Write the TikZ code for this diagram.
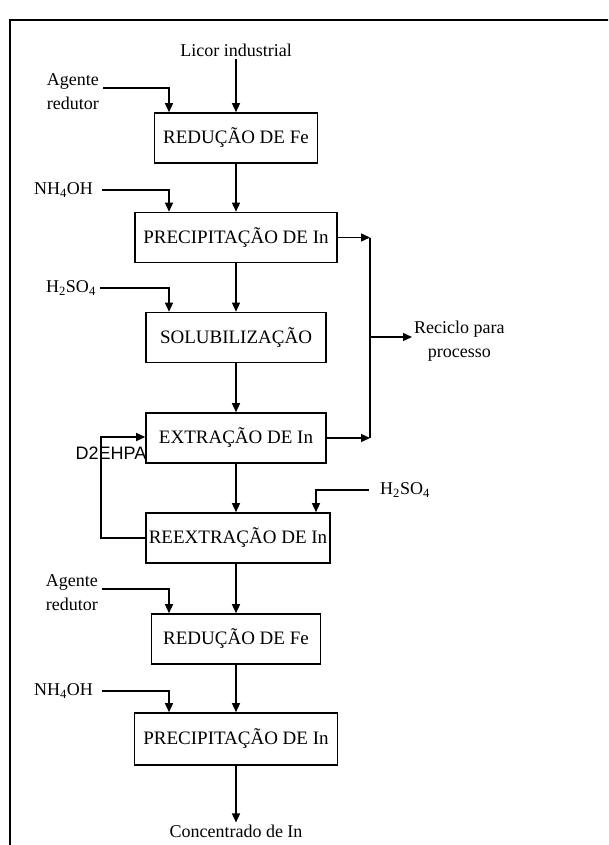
\documentclass[tikz,border=0pt]{standalone}
\usepackage{fontspec}
\setmainfont{Liberation Serif}
\newfontfamily\dsans{Liberation Sans}
\usetikzlibrary{arrows.meta}
\begin{document}
\begin{tikzpicture}[x=1pt,y=-1pt,
  box/.style={draw,line width=1.6pt,inner sep=0pt,minimum height=50pt,font=\fontsize{19}{21}\selectfont},
  lbl/.style={inner sep=2pt,font=\fontsize{18}{24}\selectfont,align=center},
  arr/.style={line width=1.4pt,-{Triangle[length=9pt,width=8pt]}},
  ln/.style={line width=1.4pt}]
\clip (0,0) rectangle (608,845);
\fill[white] (0,0) rectangle (608,845);
\draw[line width=1.5pt] (10,860) -- (10,20) -- (620,20) -- (620,860) -- cycle;
% boxes
\node[box,minimum width=163pt] (r1) at (236,138) {REDUÇÃO DE Fe};
\node[box,minimum width=202pt] (p1) at (236,237.5) {PRECIPITAÇÃO DE In};
\node[box,minimum width=180pt] (s) at (236,337.5) {SOLUBILIZAÇÃO};
\node[box,minimum width=180pt] (e) at (236,438) {EXTRAÇÃO DE In};
\node[box,minimum width=184pt] (re) at (238,538) {REEXTRAÇÃO DE In};
\node[box,minimum width=169pt] (r2) at (236,639) {REDUÇÃO DE Fe};
\node[box,minimum width=203pt,minimum height=52pt] (p2) at (236,739) {PRECIPITAÇÃO DE In};
% labels
\node[lbl] (licor) at (236,50) {Licor industrial};
\node[lbl,anchor=east] (ag1) at (101,92) {Agente\\redutor};
\node[lbl,anchor=east] (nh1) at (95,190) {NH\textsubscript{4}OH};
\node[lbl,anchor=east] (h21) at (98,288) {H\textsubscript{2}SO\textsubscript{4}};
\node[lbl,anchor=west] (rec) at (412,341) {Reciclo para\\processo};
\node[inner sep=0pt,font=\dsans\fontsize{18}{20}\selectfont] (d2) at (111,453) {D2EHPA};
\node[lbl,anchor=west] (h22) at (378,490) {H\textsubscript{2}SO\textsubscript{4}};
\node[lbl,anchor=east] (ag2) at (100,593) {Agente\\redutor};
\node[lbl,anchor=east] (nh2) at (95,691) {NH\textsubscript{4}OH};
\node[lbl] (conc) at (236,831) {Concentrado de In};
% main flow
\draw[arr] (licor.south) -- (r1.north);
\draw[arr] (r1.south) -- (p1.north);
\draw[arr] (p1.south) -- (s.north);
\draw[arr] (s.south) -- (e.north);
\draw[arr] (e.south) -- (e.south |- re.north);
\draw[arr] (re.south -| r2.north) -- (r2.north);
\draw[arr] (r2.south) -- (p2.north);
\draw[arr] (p2.south) -- (conc.north);
% side inputs
\draw[arr] ([xshift=2pt,yshift=4pt]ag1.east) -| ([xshift=-67pt]r1.north);
\draw[arr] ([xshift=7pt]nh1.east) -| ([xshift=-67pt]p1.north);
\draw[arr] ([xshift=2pt]h21.east) -| ([xshift=-67pt]s.north);
\draw[arr] ([xshift=-9pt]h22.west) -| ([xshift=78pt]re.north);
\draw[arr] ([xshift=2pt,yshift=4pt]ag2.east) -| ([xshift=-67pt]r2.north);
\draw[arr] ([xshift=7pt]nh2.east) -| ([xshift=-67pt]p2.north);
% recycle
\coordinate (rx) at (370,337);
\draw[arr] (p1.east) -- (p1.east -| rx);
\draw[arr] (e.east) -- (e.east -| rx);
\draw[ln] (p1.east -| rx) -- (e.east -| rx);
\draw[arr] (rx) -- (rec.west |- rx);
% D2EHPA loop
\coordinate (dl) at (101,538);
\draw[arr] (re.west) -- (dl) |- ([yshift=1pt]e.west);
\end{tikzpicture}
\end{document}
